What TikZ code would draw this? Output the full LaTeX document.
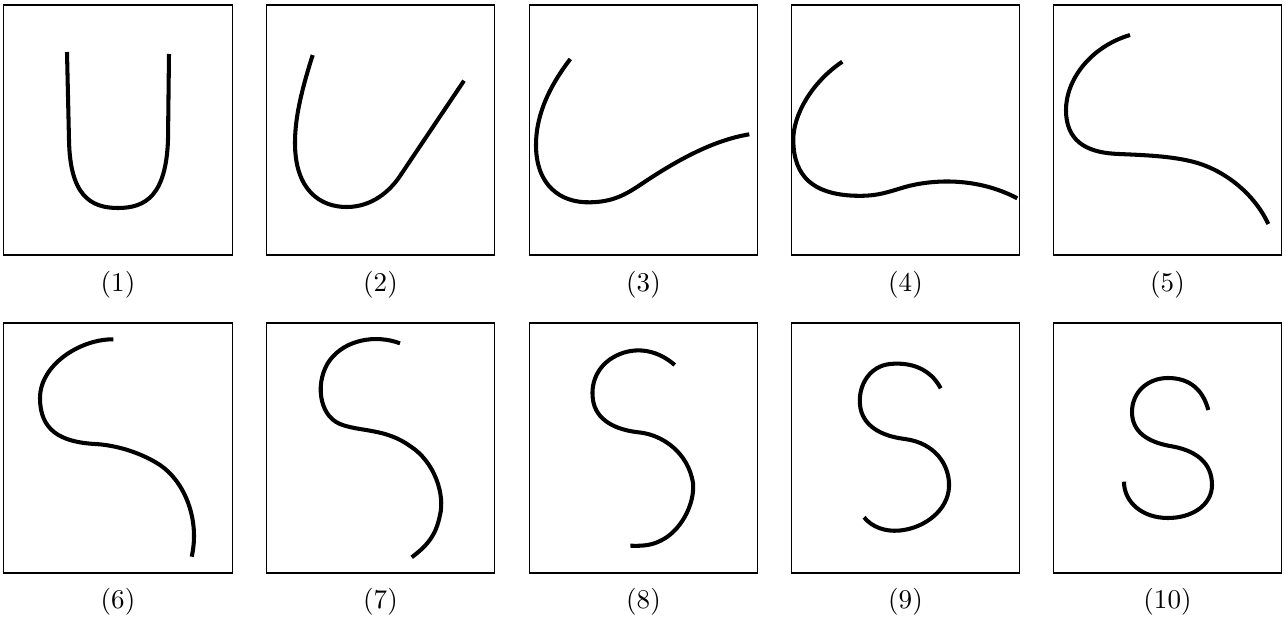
\documentclass[tikz,border=0pt]{standalone}
\begin{document}
\begin{tikzpicture}[x=0.37pt,y=-0.37pt,
  panel/.style={draw,line width=0.4pt,inner sep=0pt,outer sep=0pt,minimum width=84.4pt,minimum height=92.5pt},
  lbl/.style={inner sep=0pt},
  stroke/.style={line width=1.5pt,line cap=butt,line join=round}]
\useasboundingbox (0,0) rectangle (1286,621);
% panels
\foreach \i/\x in {1/118,2/380.5,3/643.5,4/905.5,5/1167.5}{
  \node[panel] (p\i) at (\x,130) {};
  \node[lbl] (l\i) at (\x,285) {(\i)};
}
\foreach \i/\x in {6/118,7/380.5,8/643.5,9/905.5,10/1167.5}{
  \node[panel] (p\i) at (\x,448) {};
  \node[lbl] (l\i) at (\x,602) {(\i)};
}
% (1)
\draw[stroke] (67,52) -- (69,140) .. controls (70,195) and (90,208) .. (118,208)
  .. controls (146,208) and (166,195) .. (168,140) -- (169,54);
% (2)
\draw[stroke] (312.7,55) .. controls (300,95) and (295,120) .. (295,143)
  .. controls (295,190) and (320,207) .. (346.7,207)
  .. controls (372,207) and (390,191) .. (400,176) -- (464,80.7);
% (3)
\draw[stroke] (570.3,59) .. controls (545,92) and (536,120) .. (536,145)
  .. controls (536,185) and (560,203) .. (590,202.3)
  .. controls (612,202) and (625,195) .. (640,185)
  .. controls (680,158) and (715,140) .. (749.3,134.3);
% (4)
\draw[stroke] (842.3,61.7) .. controls (812,82) and (793,115) .. (793.3,140)
  .. controls (793.5,178) and (815,193) .. (850,195.5)
  .. controls (875,197) and (885,193) .. (905,187)
  .. controls (930,180) and (975,176) .. (1017.3,198.3);
% (5)
\draw[stroke] (1130,35) .. controls (1090,47) and (1066,80) .. (1066,110)
  .. controls (1066,140) and (1085,152) .. (1115,153.8)
  .. controls (1140,155) and (1166,155.5) .. (1190,161)
  .. controls (1225,169) and (1255,195) .. (1268.3,224);
% (6)
\draw[stroke] (113.3,339.3) .. controls (80,339) and (40,365) .. (40,398)
  .. controls (40,430) and (60,442) .. (95,444)
  .. controls (115,445) and (140,452) .. (160,465)
  .. controls (185,482) and (200,520) .. (191.7,556.7);
% (7)
\draw[stroke] (400,343.3) .. controls (375,334) and (345,340) .. (330,360)
  .. controls (315,380) and (318,415) .. (340,424)
  .. controls (360,432) and (385,428) .. (410,446)
  .. controls (435,462) and (445,495) .. (440,515)
  .. controls (436,535) and (428,545) .. (411.7,557.3);
% (8)
\draw[stroke] (674.7,365) .. controls (660,352) and (640,346) .. (620,354)
  .. controls (600,362) and (590,380) .. (593,400)
  .. controls (596,420) and (615,430) .. (640,432.5)
  .. controls (662,435) and (688,452) .. (693,483)
  .. controls (695,505) and (680,532) .. (660,541)
  .. controls (650,546) and (640,546) .. (630.3,545.7);
% (9)
\draw[stroke] (940.7,388.3) .. controls (930,368) and (910,362) .. (890,364)
  .. controls (870,366) and (858,385) .. (860,405)
  .. controls (862,425) and (880,436) .. (905,439)
  .. controls (935,443) and (950,465) .. (949,487)
  .. controls (948,510) and (925,528) .. (900,530.5)
  .. controls (885,532) and (872,527) .. (864,517.3);
% (10)
\draw[stroke] (1208.3,410) .. controls (1203,390) and (1190,378) .. (1168,378)
  .. controls (1148,378) and (1132,392) .. (1132,412)
  .. controls (1132,432) and (1148,442) .. (1170,446)
  .. controls (1195,450) and (1212,462) .. (1212,485)
  .. controls (1212,505) and (1192,518) .. (1168,518)
  .. controls (1142,518) and (1124,502) .. (1124,481.7);
\end{tikzpicture}
\end{document}
